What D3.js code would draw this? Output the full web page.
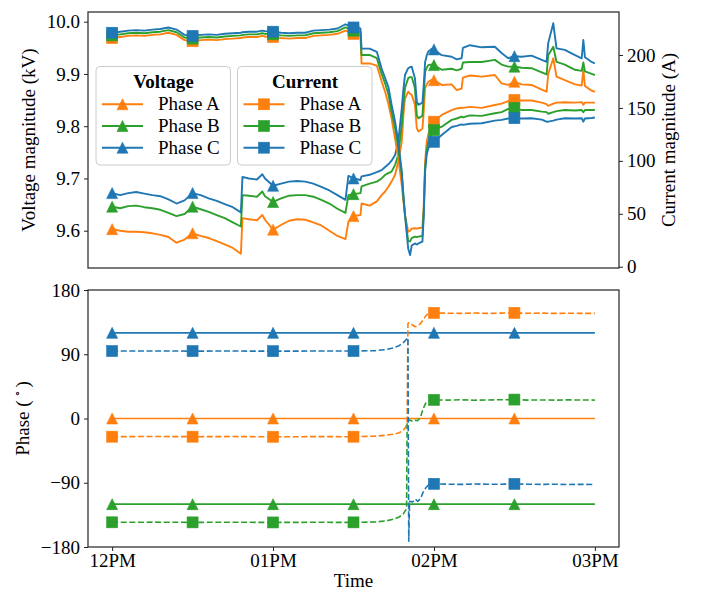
<!DOCTYPE html>
<html>
<head>
<meta charset="utf-8">
<script src="https://cdn.jsdelivr.net/npm/d3@7"></script>
<style>
  body { margin: 0; background: #fff; }
  svg text { font-family: "Liberation Serif", "Times New Roman", serif; fill: #000; }
</style>
</head>
<body>
<svg id="chart" width="701" height="590" font-family="Liberation Serif, Times New Roman, serif"></svg>
<script>
/* Voltage / current magnitude and phase — two stacked panels */

// ── Data (minutes after 12PM) ────────────────────────────────────────────────

const MINUTES = [
  0, 3, 6, 9, 12, 15, 18, 21, 24, 27,
  30, 33, 36, 39, 42, 45, 48, 48.6, 51, 54,
  56, 57, 60, 63, 66, 69, 72, 75, 78, 81,
  84, 87, 88.1, 90, 92.6, 93, 96, 98.7, 100.5, 101.8,
  103, 104.2, 105.5, 106.7, 108, 108.6, 109.2, 110.4, 111.1, 111.7,
  112.9, 113.6, 114.2, 115.7, 116.2, 116.7, 117.3, 117.9, 119.2, 120,
  122.9, 126.6, 128.5, 130.3, 130.8, 133.4, 137.8, 142.7, 145.2, 147.7,
  150, 152.7, 156.4, 160.2, 162, 162.6, 164.5, 165.7, 168.8, 172.6,
  175.1, 175.7, 176.3, 178.8, 180,
];

// voltage magnitude, kV
const VOLT_A = [
  9.603, 9.600, 9.598, 9.598, 9.597, 9.595, 9.592, 9.588, 9.577, 9.583,
  9.595, 9.590, 9.586, 9.580, 9.574, 9.567, 9.556, 9.624, 9.622, 9.620,
  9.630, 9.621, 9.602, 9.611, 9.619, 9.622, 9.621, 9.616, 9.610, 9.600,
  9.590, 9.584, 9.617, 9.628, 9.630, 9.652, 9.648, 9.656, 9.668, 9.675,
  9.684, 9.694, 9.707, 9.732, 9.770, 9.821, 9.853, 9.866, 9.862, 9.860,
  9.841, 9.796, 9.790, 9.795, 9.830, 9.873, 9.880, 9.885, 9.889, 9.888,
  9.879, 9.880, 9.869, 9.872, 9.893, 9.897, 9.895, 9.898, 9.882, 9.879,
  9.885, 9.880, 9.879, 9.870, 9.866, 9.900, 9.930, 9.895, 9.888, 9.880,
  9.878, 9.908, 9.877, 9.868, 9.866,
];
const VOLT_B = [
  9.646, 9.643, 9.647, 9.648, 9.645, 9.643, 9.640, 9.634, 9.628, 9.632,
  9.646, 9.641, 9.636, 9.630, 9.624, 9.616, 9.608, 9.668, 9.667, 9.665,
  9.675, 9.666, 9.655, 9.662, 9.667, 9.668, 9.668, 9.665, 9.659, 9.652,
  9.642, 9.634, 9.668, 9.670, 9.672, 9.685, 9.690, 9.694, 9.700, 9.707,
  9.710, 9.713, 9.726, 9.745, 9.802, 9.840, 9.873, 9.892, 9.894, 9.894,
  9.873, 9.821, 9.815, 9.820, 9.860, 9.904, 9.912, 9.917, 9.918, 9.917,
  9.908, 9.910, 9.907, 9.910, 9.922, 9.923, 9.923, 9.927, 9.918, 9.914,
  9.914, 9.912, 9.911, 9.903, 9.899, 9.936, 9.952, 9.923, 9.918, 9.908,
  9.906, 9.922, 9.905, 9.900, 9.898,
];
const VOLT_C = [
  9.672, 9.668, 9.672, 9.674, 9.671, 9.668, 9.666, 9.660, 9.652, 9.658,
  9.672, 9.668, 9.662, 9.657, 9.651, 9.645, 9.635, 9.703, 9.700, 9.698,
  9.708, 9.700, 9.686, 9.690, 9.694, 9.695, 9.694, 9.690, 9.684, 9.677,
  9.668, 9.659, 9.705, 9.700, 9.697, 9.704, 9.707, 9.712, 9.716, 9.722,
  9.727, 9.734, 9.745, 9.770, 9.834, 9.870, 9.898, 9.911, 9.913, 9.914,
  9.892, 9.847, 9.841, 9.845, 9.880, 9.923, 9.935, 9.943, 9.948, 9.947,
  9.936, 9.933, 9.928, 9.930, 9.950, 9.955, 9.951, 9.952, 9.940, 9.930,
  9.934, 9.933, 9.935, 9.927, 9.923, 9.959, 9.997, 9.949, 9.946, 9.936,
  9.930, 9.965, 9.932, 9.923, 9.920,
];

// current magnitude, A
const CURR_A = [
  216, 217, 218, 218.5, 218, 219, 219.5, 221, 219, 214,
  213, 214, 214.5, 214, 215, 215.5, 216, 216.5, 217, 217,
  218, 217.5, 217, 216, 215.5, 216, 216, 218, 218.5, 219,
  220, 223, 222, 220, 219, 192, 192, 190, 175, 165,
  154, 140, 121, 102.5, 77, 62, 49, 33, 34, 36,
  36.3, 36, 36.3, 37, 58, 99, 118, 125, 134, 137,
  143.4, 148, 149.5, 150.2, 150, 151, 150, 152.8, 154, 156.5,
  157.5, 157, 157, 155, 153.5, 152, 154, 155, 155.4, 155,
  155.5, 153, 155, 155, 155,
];
const CURR_B = [
  218.5, 219.5, 220.5, 221, 220.5, 221.5, 222, 223.5, 221.5, 216.5,
  215.5, 216.5, 217, 216.5, 217.5, 218, 218.5, 219, 219.5, 219.5,
  220.5, 220, 219.5, 218.5, 218, 218.5, 218.5, 220.5, 221, 221.5,
  222.5, 226, 225, 223, 222, 200, 200, 197, 182, 173,
  163, 146.5, 131, 112, 87, 66, 49, 24, 24, 27,
  28.4, 28, 28.4, 29, 52, 93, 110, 118, 126, 129,
  132.3, 138.7, 140, 141.8, 141, 143, 142.5, 145, 146, 149,
  150, 148, 148, 146.5, 146, 144.5, 146, 147, 148, 147.5,
  148, 146, 148, 148, 148,
];
const CURR_C = [
  221, 222, 223, 223.5, 223, 224, 224.5, 226, 224, 219,
  218, 219, 219.5, 219, 220, 220.5, 221, 221.5, 222, 222,
  223, 222.5, 222, 221, 220.5, 221, 221, 223, 223.5, 224,
  225, 229, 228, 226, 225, 206, 206, 203, 187, 178,
  170, 153, 137, 118, 90, 68, 49, 17, 11, 20,
  22, 21, 22, 23.6, 49, 90, 106, 112, 117, 118,
  124.5, 132, 133, 134.5, 134, 135, 135.5, 138, 138.7, 140,
  140.3, 140, 140.3, 139, 137, 137, 138, 139, 140.3, 140,
  140.3, 137, 140, 140.5, 141,
];

// phase angles, degrees
const PHASE_V_MINUTES = [0, 30, 60, 90, 120, 150, 180];
const PHASE_V_A = [0, 0, 0, 0, 0, 0, 0];
const PHASE_V_B = [-120, -120, -120, -120, -120, -120, -120];
const PHASE_V_C = [120, 120, 120, 120, 120, 120, 120];

const PHASE_MINUTES = [
  0, 15, 30, 45, 60, 75, 90, 98, 102, 105, 107, 108.5, 109.5,
  109.8, 110.0, 110.3, 110.6, 110.9, 112, 113, 114, 115, 116, 117, 118, 119, 120,
  125, 130, 135, 140, 145, 150, 155, 160, 165, 170, 175, 180,
];
const PHASE_I_A = [
  -25.5, -25.2, -25.5, -25.3, -25.6, -25.4, -25.5, -24.8, -23.5, -22, -20, -17, -12,
  -8, -6, 133, 134, 134, 131, 128.5, 130, 133, 138, 144, 147, 148, 148,
  147.5, 147.3, 147.8, 147.2, 147.6, 148, 147.4, 147.6, 147.2, 147.5, 147.3, 147.3,
];
const PHASE_I_B = [
  -145.4, -145.2, -145.5, -145.3, -145.6, -145.4, -145.5, -145, -143.5, -141, -138, -134, -128,
  -124, -3, -2.5, -3, -2, -4, -2.5, -3, 2, 14, 22, 25, 26, 26,
  25.8, 26.2, 25.6, 26, 26.3, 26.5, 25.8, 26, 25.7, 26.1, 25.9, 25.8,
];
const PHASE_I_C = [
  94.5, 94.6, 94.4, 94.5, 94.3, 94.5, 94.5, 95, 96.5, 99, 102, 106, 110,
  111, 112, 113, -172, -116, -117, -113, -116, -112, -103, -97, -93, -92, -91.5,
  -92, -92.3, -91.8, -92, -92.2, -91.6, -92, -92.3, -92.1, -92.4, -92.2, -92.5,
];

const MARKER_MINUTES = [0, 30, 60, 90, 120, 150];
const TIME_TICKS = [0, 60, 120, 180];
const TIME_LABELS = ["12PM", "01PM", "02PM", "03PM"];
const VOLT_TICKS = [9.6, 9.7, 9.8, 9.9, 10.0];
const CURR_TICKS = [0, 50, 100, 150, 200];
const PHASE_TICKS = [-180, -90, 0, 90, 180];
const PHASE_NAMES = ["Phase A", "Phase B", "Phase C"];
const COLORS = ["#ff7f0e", "#2ca02c", "#1f77b4"];

// ── Layout / scales ──────────────────────────────────────────────────────────

const FONT = 19;
const SERIF = '"Liberation Serif", "Times New Roman", serif';
const L = 88, R = 619;
const TOP = { y0: 12, y1: 268 };
const BOT = { y0: 290, y1: 547 };

const svg = d3.select("#chart");

const x = d3.scaleLinear().domain([-9, 189]).range([L, R]);
const yV = d3.scaleLinear().domain([9.5286, 10.0186]).range([TOP.y1, TOP.y0]);
const yI = d3.scaleLinear().domain([-1.2, 240.6]).range([TOP.y1, TOP.y0]);
const yP = d3.scaleLinear().domain([-180, 180]).range([BOT.y1, BOT.y0]);

const minus = d => (d < 0 ? "\u2212" + Math.abs(d) : String(d));

const defs = svg.append("defs");
defs.append("clipPath").attr("id", "clip-top")
  .append("rect").attr("x", L).attr("y", TOP.y0).attr("width", R - L).attr("height", TOP.y1 - TOP.y0);
defs.append("clipPath").attr("id", "clip-bot")
  .append("rect").attr("x", L).attr("y", BOT.y0).attr("width", R - L).attr("height", BOT.y1 - BOT.y0);

// ── Helpers ──────────────────────────────────────────────────────────────────

const MS = 11; // marker size
const triPath = `M0,${-MS / 2}L${MS / 2},${MS / 2}L${-MS / 2},${MS / 2}Z`;

function drawMarker(g, kind, cx, cy, color) {
  if (kind === "tri") {
    g.append("path").attr("d", triPath)
      .attr("transform", `translate(${cx},${cy})`)
      .attr("fill", color).attr("stroke", color).attr("stroke-width", 0.6);
  } else {
    g.append("rect")
      .attr("x", cx - MS / 2).attr("y", cy - MS / 2)
      .attr("width", MS).attr("height", MS)
      .attr("fill", color).attr("stroke", color).attr("stroke-width", 0.6);
  }
}

function drawSeries(g, times, values, yScale, color, opts) {
  const line = d3.line()
    .x((d, i) => x(times[i]))
    .y(d => yScale(d));
  g.append("path")
    .datum(values)
    .attr("d", line)
    .attr("fill", "none")
    .attr("stroke", color)
    .attr("stroke-width", opts.width)
    .attr("stroke-linejoin", "round")
    .attr("stroke-dasharray", opts.dash || null);
  MARKER_MINUTES.forEach(m => {
    const i = times.indexOf(m);
    if (i < 0) return;
    drawMarker(g, opts.marker, x(m), yScale(values[i]), color);
  });
}

function styleAxis(g) {
  g.select(".domain").remove();
  g.attr("font-family", SERIF).attr("font-size", FONT);
  g.selectAll(".tick line").attr("stroke", "#222").attr("stroke-width", 1);
  g.selectAll("text").attr("fill", "#000");
}

function label(t) {
  return t.attr("font-family", SERIF).attr("font-size", FONT).attr("fill", "#000");
}

// ── Top panel: magnitudes ────────────────────────────────────────────────────

const topLines = svg.append("g").attr("clip-path", "url(#clip-top)");
[VOLT_A, VOLT_B, VOLT_C].forEach((vals, k) =>
  drawSeries(topLines, MINUTES, vals, yV, COLORS[k], { width: 1.9, marker: "tri" }));
[CURR_A, CURR_B, CURR_C].forEach((vals, k) =>
  drawSeries(topLines, MINUTES, vals, yI, COLORS[k], { width: 1.9, marker: "sq" }));

svg.append("g").attr("transform", `translate(${L},0)`)
  .call(d3.axisLeft(yV).tickValues(VOLT_TICKS).tickFormat(d3.format(".1f")).tickSize(4).tickPadding(4))
  .call(styleAxis);

svg.append("g").attr("transform", `translate(${R},0)`)
  .call(d3.axisRight(yI).tickValues(CURR_TICKS).tickFormat(d3.format("d")).tickSize(4).tickPadding(4))
  .call(styleAxis);

svg.append("rect")
  .attr("x", L).attr("y", TOP.y0).attr("width", R - L).attr("height", TOP.y1 - TOP.y0)
  .attr("fill", "none").attr("stroke", "#222").attr("stroke-width", 1.2);

label(svg.append("text"))
  .attr("transform", `translate(35,${(TOP.y0 + TOP.y1) / 2}) rotate(-90)`)
  .attr("text-anchor", "middle")
  .text("Voltage magnitude (kV)");

label(svg.append("text"))
  .attr("transform", `translate(675,${(TOP.y0 + TOP.y1) / 2}) rotate(-90)`)
  .attr("text-anchor", "middle")
  .text("Current magnitude (A)");

// ── Legends ──────────────────────────────────────────────────────────────────

function drawLegend(x0, title, marker) {
  const g = svg.append("g").attr("transform", `translate(${x0},66.5)`);
  g.append("rect")
    .attr("x", 0).attr("y", 0).attr("width", 134.5).attr("height", 98.5)
    .attr("rx", 4).attr("fill", "#fff").attr("fill-opacity", 0.85)
    .attr("stroke", "#cccccc").attr("stroke-width", 1);
  label(g.append("text"))
    .attr("x", 67.5).attr("y", 21)
    .attr("text-anchor", "middle").attr("font-weight", "bold")
    .text(title);
  PHASE_NAMES.forEach((name, k) => {
    const cy = 37.8 + k * 21.7;
    g.append("line")
      .attr("x1", 6).attr("x2", 47).attr("y1", cy).attr("y2", cy)
      .attr("stroke", COLORS[k]).attr("stroke-width", 1.9);
    drawMarker(g, marker, 26.5, cy, COLORS[k]);
    label(g.append("text"))
      .attr("x", 62).attr("y", cy + 6)
      .text(name);
  });
}
drawLegend(96, "Voltage", "tri");
drawLegend(237.5, "Current", "sq");

// ── Bottom panel: phase angles ───────────────────────────────────────────────

const botLines = svg.append("g").attr("clip-path", "url(#clip-bot)");
[PHASE_V_A, PHASE_V_B, PHASE_V_C].forEach((vals, k) =>
  drawSeries(botLines, PHASE_V_MINUTES, vals, yP, COLORS[k], { width: 1.6, marker: "tri" }));
[PHASE_I_A, PHASE_I_B, PHASE_I_C].forEach((vals, k) =>
  drawSeries(botLines, PHASE_MINUTES, vals, yP, COLORS[k], { width: 1.6, marker: "sq", dash: "6,2.6" }));

svg.append("g").attr("transform", `translate(${L},0)`)
  .call(d3.axisLeft(yP).tickValues(PHASE_TICKS).tickFormat(minus).tickSize(4).tickPadding(4))
  .call(styleAxis);

svg.append("g").attr("transform", `translate(0,${BOT.y1})`)
  .call(d3.axisBottom(x).tickValues(TIME_TICKS).tickFormat((d, i) => TIME_LABELS[i]).tickSize(4).tickPadding(3))
  .call(styleAxis);

svg.append("rect")
  .attr("x", L).attr("y", BOT.y0).attr("width", R - L).attr("height", BOT.y1 - BOT.y0)
  .attr("fill", "none").attr("stroke", "#222").attr("stroke-width", 1.2);

const phaseLabel = label(svg.append("text"))
  .attr("transform", `translate(29,${(BOT.y0 + BOT.y1) / 2}) rotate(-90)`)
  .attr("text-anchor", "middle");
phaseLabel.append("tspan").text("Phase (");
phaseLabel.append("tspan").attr("dx", 3).attr("dy", -8).attr("font-size", 11).text("\u2218");
phaseLabel.append("tspan").attr("dx", 3).attr("dy", 8).text(")");

label(svg.append("text"))
  .attr("x", (L + R) / 2).attr("y", 587)
  .attr("text-anchor", "middle")
  .text("Time");
</script>
</body>
</html>
